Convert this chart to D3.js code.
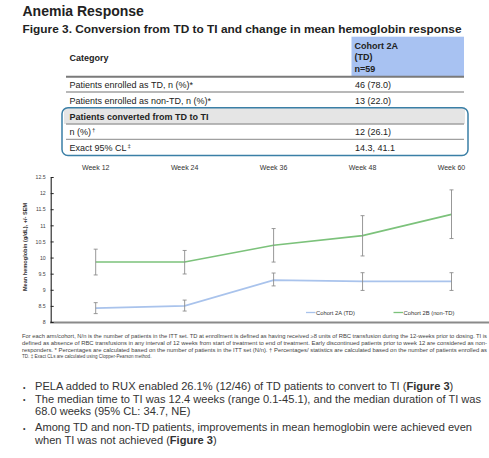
<!DOCTYPE html>
<html><head><meta charset="utf-8">
<script src="https://cdn.jsdelivr.net/npm/d3@7"></script>
<style>body{margin:0;background:#fff;font-family:"Liberation Sans",Arial,sans-serif}svg{display:block}</style>
</head><body>
<script>
// ---- data ----
const weeks = [12, 24, 36, 48, 60];
const weekLabels = ["Week 12", "Week 24", "Week 36", "Week 48", "Week 60"];
const yTicks = [8, 8.5, 9, 9.5, 10, 10.5, 11, 11.5, 12, 12.5];
const cohort2A_mean = [8.43, 8.50, 9.30, 9.26, 9.26];
const cohort2A_low  = [8.26, 8.34, 9.12, 8.98, 8.98];
const cohort2A_high = [8.60, 8.68, 9.52, 9.53, 9.53];
const cohort2B_mean = [9.86, 9.86, 10.38, 10.68, 11.34];
const cohort2B_low  = [9.46, 9.49, 9.86, 10.05, 10.59];
const cohort2B_high = [10.26, 10.22, 10.90, 11.30, 12.10];
const seriesNames = ["Cohort 2A (TD)", "Cohort 2B (non-TD)"];
const tableRows = [
  ["Patients enrolled as TD, n (%)*", "", "46 (78.0)"],
  ["Patients enrolled as non-TD, n (%)*", "", "13 (22.0)"],
  ["Patients converted from TD to TI", "", ""],
  ["n (%)", "\u2020", "12 (26.1)"],
  ["Exact 95% CL", "\u2021", "14.3, 41.1"]
];
const headerLines = ["Cohort 2A", "(TD)", "n=59"];
const footnotes = [
  "For each arm/cohort, N/n is the number of patients in the ITT set. TD at enrollment is defined as having received \u22658 units of RBC transfusion during the 12-weeks prior to dosing. TI is",
  "defined as absence of RBC transfusions in any interval of 12 weeks from start of treatment to end of treatment. Early discontinued patients prior to week 12 are considered as non-",
  "responders. * Percentages are calculated based on the number of patients in the ITT set (N/n). \u2020 Percentages/ statistics are calculated based on the number of patients enrolled as",
  "TD. \u2021 Exact CLs are calculated using Clopper-Pearson method."
];
const bullets = [
  [["PELA added to RUX enabled 26.1% (12/46) of TD patients to convert to TI (", 0], ["Figure 3", 1], [")", 0]],
  [["The median time to TI was 12.4 weeks (range 0.1-45.1), and the median duration of TI was", 0]],
  [["68.0 weeks (95% CL: 34.7, NE)", 0]],
  [["Among TD and non-TD patients, improvements in mean hemoglobin were achieved even", 0]],
  [["when TI was not achieved (", 0], ["Figure 3", 1], [")", 0]]
];

const W = 489, H = 458;
const svg = d3.select("body").append("svg").attr("width", W).attr("height", H);
const txt = "#222";

// ---- titles ----
svg.append("text").attr("x", 22.5).attr("y", 16).attr("font-size", 14).attr("font-weight", "bold")
  .attr("fill", txt).text("Anemia Response");
svg.append("text").attr("x", 22.5).attr("y", 33.3).attr("font-size", 11.3).attr("font-weight", "bold")
  .attr("fill", txt).attr("textLength", 439).attr("lengthAdjust", "spacingAndGlyphs")
  .text("Figure 3. Conversion from TD to TI and change in mean hemoglobin response");

// ---- table ----
const tL = 66, tR = 464, cX = 351.5;
svg.append("rect").attr("x", cX).attr("y", 36.7).attr("width", tR - cX).attr("height", 39.8).attr("fill", "#a8c2f2");
svg.append("rect").attr("x", tL - 2).attr("y", 108).attr("width", tR - tL + 3).attr("height", 16).attr("fill", "#e5e5e5");
svg.append("text").attr("x", 69.5).attr("y", 60.5).attr("font-size", 9).attr("font-weight", "bold").attr("fill", txt).text("Category");
headerLines.forEach((h, i) => svg.append("text").attr("x", 354.5).attr("y", 48.5 + i * 11.8)
  .attr("font-size", 9).attr("font-weight", "bold").attr("fill", txt).text(h));
svg.append("line").attr("x1", tL).attr("x2", tR).attr("y1", 76.7).attr("y2", 76.7).attr("stroke", "#7a7a7a").attr("stroke-width", 2);
const rowBase = [88, 103.5, 119.5, 135.3, 150.5];
const rowLines = [92, null, 124, 139.3, null];
tableRows.forEach((r, i) => {
  const t = svg.append("text").attr("x", 69.5).attr("y", rowBase[i]).attr("font-size", 9)
    .attr("font-weight", i === 2 ? "bold" : "normal").attr("fill", txt);
  t.append("tspan").text(r[0]);
  if (r[1]) t.append("tspan").attr("font-size", 6).attr("dy", -3).attr("dx", 1).text(r[1]);
  if (r[2]) svg.append("text").attr("x", 355).attr("y", rowBase[i]).attr("font-size", 9).attr("fill", txt).text(r[2]);
  if (rowLines[i]) svg.append("line").attr("x1", tL).attr("x2", tR).attr("y1", rowLines[i]).attr("y2", rowLines[i])
    .attr("stroke", "#a0a0a0").attr("stroke-width", 1.3);
});
svg.append("rect").attr("x", 62).attr("y", 107.8).attr("width", 406).attr("height", 47.8).attr("rx", 6)
  .attr("fill", "none").attr("stroke", "#3a7fa6").attr("stroke-width", 1.5);

// ---- chart ----
const x = d3.scaleLinear().domain([12, 60]).range([95.7, 451.5]);
const y = d3.scaleLinear().domain([8, 12.5]).range([322, 177]);

const g = svg.append("g");
weeks.forEach((w, i) => g.append("text").attr("x", x(w)).attr("y", 169.5).attr("text-anchor", "middle")
  .attr("font-size", 7).attr("fill", "#333").text(weekLabels[i]));

// x baseline
g.append("line").attr("x1", 50).attr("x2", 489).attr("y1", y(8) + 0.5).attr("y2", y(8) + 0.5)
  .attr("stroke", "#8a8a8a").attr("stroke-width", 2);

const yAxis = d3.axisLeft(y).tickValues(yTicks).tickFormat(d3.format("")).tickSizeInner(-3).tickSizeOuter(0).tickPadding(5);
const ya = g.append("g").attr("transform", "translate(50.7,0)").call(yAxis);
ya.select(".domain").attr("stroke", "#222").attr("stroke-width", 1.1);
ya.selectAll(".tick line").attr("stroke", "#222");
ya.selectAll(".tick text").attr("font-size", 5.2).attr("fill", "#444").attr("font-family", "Liberation Sans, Arial, sans-serif");

g.append("text").attr("transform", "translate(26.5,247) rotate(-90)").attr("text-anchor", "middle")
  .attr("font-size", 5.6).attr("font-weight", "bold").attr("fill", "#333").text("Mean hemoglobin (g/dL), +/- SEM");

const series = [
  {mean: cohort2A_mean, low: cohort2A_low, high: cohort2A_high, color: "#a9c3ec"},
  {mean: cohort2B_mean, low: cohort2B_low, high: cohort2B_high, color: "#7cc27b"}
];
const line = d3.line().x((d, i) => x(weeks[i])).y(d => y(d));
series.forEach(s => {
  g.append("path").datum(s.mean).attr("d", line).attr("fill", "none").attr("stroke", s.color).attr("stroke-width", 1.6);
});
series.forEach(s => {
  weeks.forEach((w, i) => {
    const xx = x(w);
    g.append("line").attr("x1", xx).attr("x2", xx).attr("y1", y(s.low[i])).attr("y2", y(s.high[i])).attr("stroke", "#8c8c8c").attr("stroke-width", 0.9);
    [s.low[i], s.high[i]].forEach(v => g.append("line").attr("x1", xx - 2).attr("x2", xx + 2).attr("y1", y(v)).attr("y2", y(v))
      .attr("stroke", "#8c8c8c").attr("stroke-width", 0.9));
  });
});

// legend
const legX = [306, 393.5];
series.forEach((s, i) => {
  g.append("line").attr("x1", legX[i]).attr("x2", legX[i] + 9.5).attr("y1", 312.5).attr("y2", 312.5).attr("stroke", s.color).attr("stroke-width", 1.3);
  g.append("text").attr("x", legX[i] + 10).attr("y", 314.6).attr("font-size", 5.8).attr("fill", "#333").text(seriesNames[i]);
});

// ---- footnotes ----
footnotes.forEach((f, i) => {
  const t = svg.append("text").attr("x", 22).attr("y", 338.3 + i * 6.7).attr("font-size", 4.6).attr("fill", "#444").text(f);
  if (i < 3) t.attr("textLength", 465).attr("lengthAdjust", "spacingAndGlyphs");
});

// ---- bullets ----
const bBase = [390.2, 402.8, 415.4, 431, 443.6];
const bulletStart = [true, true, false, true, false];
bullets.forEach((b, i) => {
  if (bulletStart[i]) svg.append("text").attr("x", 23).attr("y", bBase[i] - 0.5).attr("font-size", 7).attr("fill", "#333").text("\u2022");
  const t = svg.append("text").attr("x", 35).attr("y", bBase[i]).attr("font-size", 11.1).attr("fill", "#333");
  b.forEach(p => t.append("tspan").attr("font-weight", p[1] ? "bold" : "normal").text(p[0]));
});
</script>
</body></html>
